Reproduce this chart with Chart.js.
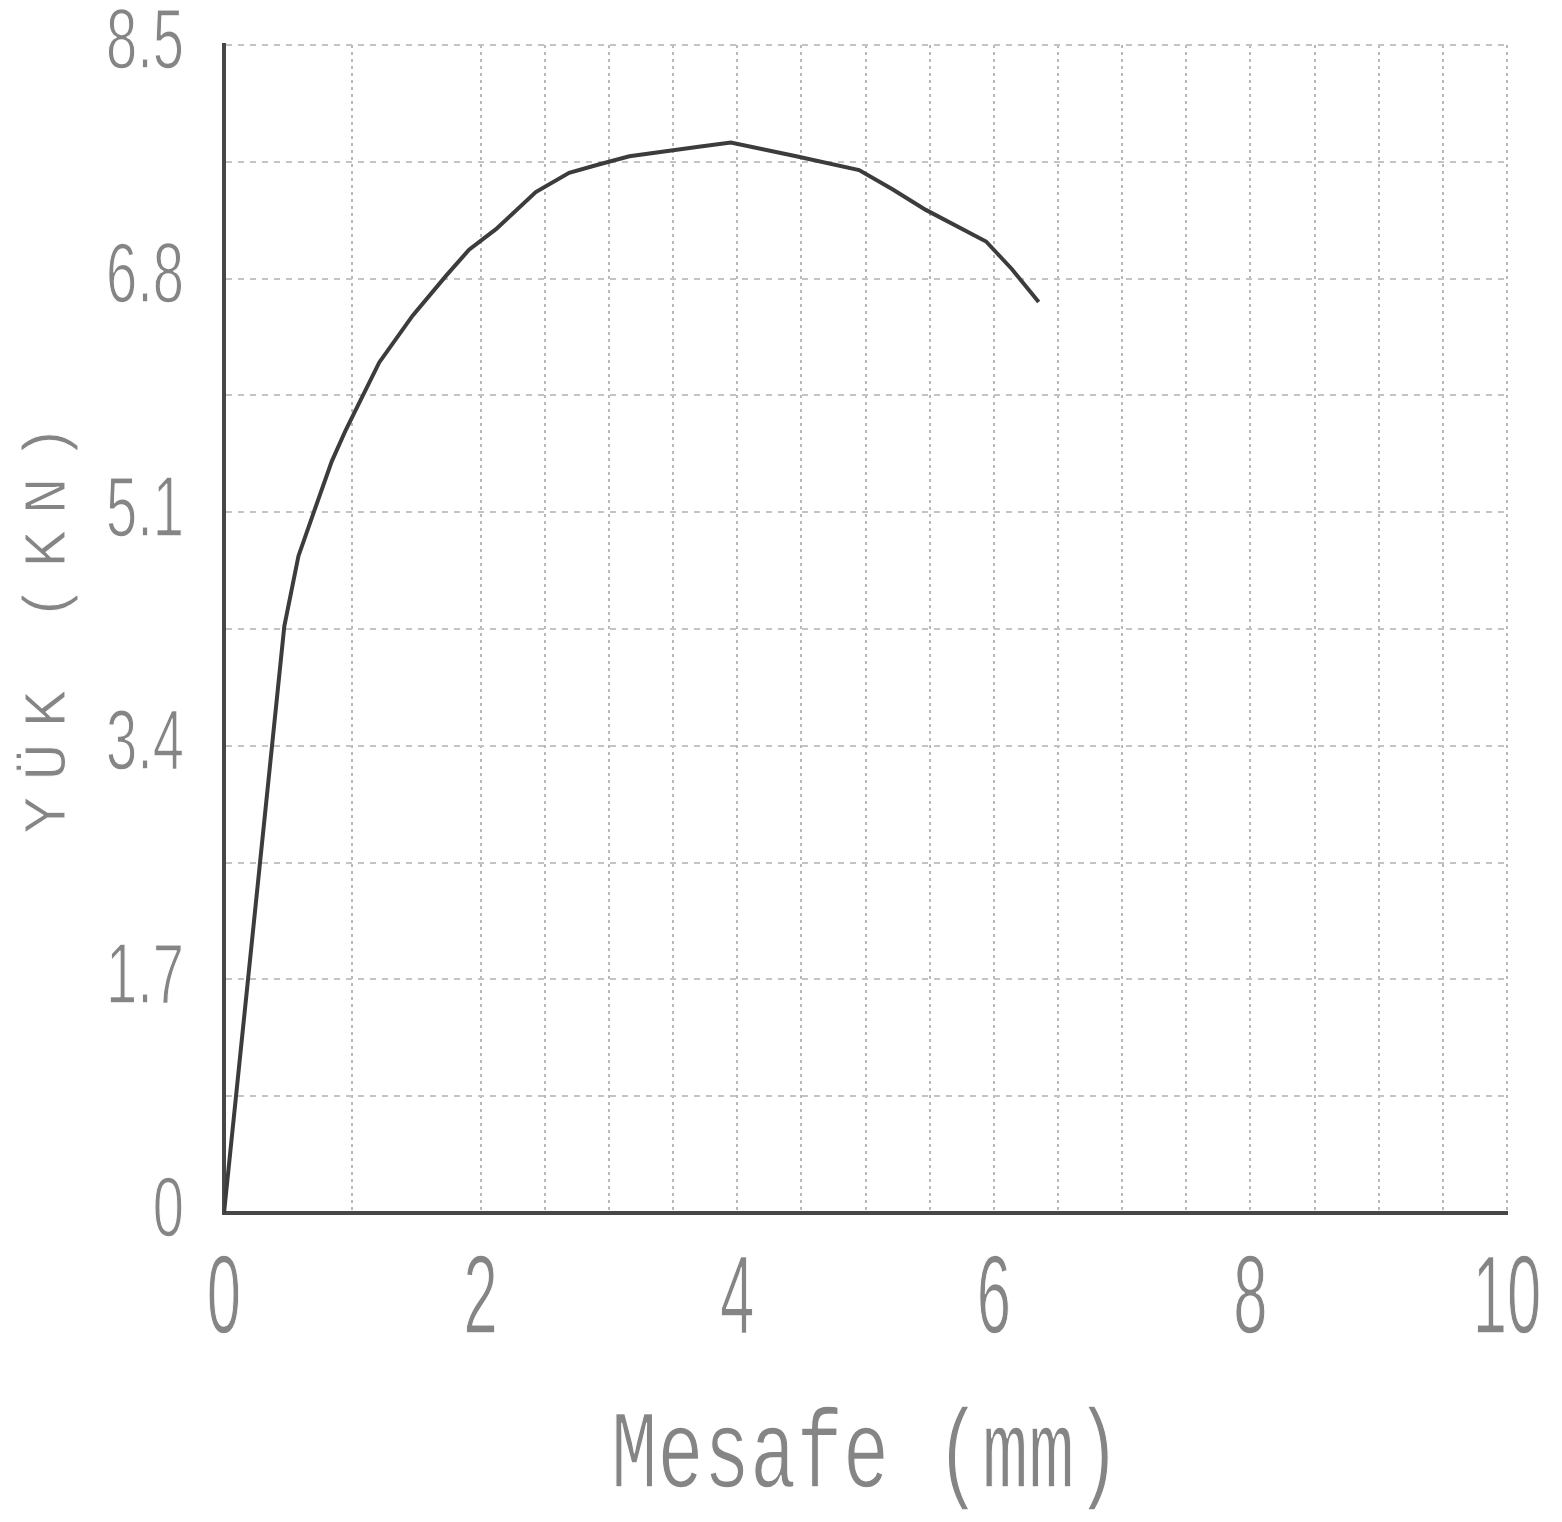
<!DOCTYPE html>
<html>
<head>
<meta charset="utf-8">
<title>Yük - Mesafe</title>
<script src="https://cdn.jsdelivr.net/npm/chart.js@4/dist/chart.umd.min.js"></script>
<style>
    html, body { margin: 0; padding: 0; background: #fff; }
    canvas { display: block; }
</style>
</head>
<body>
<canvas id="loadChart" width="1562" height="1522"></canvas>
<script>
// values
const distance = [0, 0.47, 0.58, 0.70, 0.84, 0.95, 1.21, 1.47, 1.73, 1.91, 2.12, 2.43, 2.69, 2.92, 3.16, 3.70, 3.95, 4.46, 4.95, 5.21, 5.47, 5.94, 6.14, 6.35];
const load = [0, 4.27, 4.78, 5.10, 5.47, 5.70, 6.19, 6.53, 6.82, 7.01, 7.16, 7.43, 7.57, 7.63, 7.69, 7.76, 7.79, 7.69, 7.59, 7.45, 7.30, 7.07, 6.87, 6.63];

const xTickLabels = ['0', '2', '4', '6', '8', '10'];
const yTickLabels = ['0', '1.7', '3.4', '5.1', '6.8', '8.5'];
const xTitle = 'Mesafe (mm)';
const yTitle = 'YÜK (KN)';

const textColor = '#858585';
const digitFont = '"Liberation Sans", Arimo, sans-serif';
const plotFont = '"Liberation Mono", "DejaVu Sans Mono", monospace';

// plotter style lettering: narrow glyphs, thinned with a white edge
function plotterLabel(ctx, txt, x, y, sx, rot, erode) {
    ctx.save();
    ctx.translate(x, y);
    if (rot) ctx.rotate(rot);
    ctx.scale(sx, 1);
    ctx.fillText(txt, 0, 0);
    if (erode) {
        ctx.lineWidth = erode;
        ctx.lineJoin = 'round';
        ctx.strokeStyle = '#fff';
        ctx.strokeText(txt, 0, 0);
    }
    ctx.restore();
}

const plotterText = {
    id: 'plotterText',
    afterDraw(chart) {
        const ctx = chart.ctx;
        const x = chart.scales.x;
        const y = chart.scales.y;
        ctx.save();
        ctx.fillStyle = textColor;
        ctx.textBaseline = 'middle';

        // x tick labels
        ctx.textAlign = 'center';
        ctx.font = '112px ' + digitFont;
        xTickLabels.forEach(lbl => {
            plotterLabel(ctx, lbl, x.getPixelForValue(parseFloat(lbl)), 1302, 0.55, 0, 1.5);
        });

        // y tick labels
        ctx.textAlign = 'right';
        ctx.font = '85px ' + digitFont;
        yTickLabels.forEach(lbl => {
            plotterLabel(ctx, lbl, 184, y.getPixelForValue(parseFloat(lbl)), 0.66, 0, 1.5);
        });

        // axis titles
        ctx.textAlign = 'center';
        ctx.font = '112px ' + plotFont;
        plotterLabel(ctx, xTitle, 866, 1457, 0.69, 0, 1.5);

        ctx.font = '62px ' + plotFont;
        ctx.letterSpacing = '16px';
        plotterLabel(ctx, yTitle, 49, 621, 1, -Math.PI / 2, 1);
        ctx.letterSpacing = '0px';

        ctx.restore();
    }
};

const ctxLoad = document.getElementById('loadChart').getContext('2d');

const loadChart = new Chart(ctxLoad, {
    type: 'scatter',
    data: {
        datasets: [{
            data: distance.map((d, i) => ({ x: d, y: load[i] })),
            showLine: true,
            borderColor: '#3c3c3c',
            borderWidth: 4,
            pointRadius: 0,
            tension: 0
        }]
    },
    options: {
        responsive: false,
        animation: false,
        layout: {
            padding: { left: 224, right: 55, top: 45, bottom: 309 }
        },
        plugins: {
            legend: { display: false },
            tooltip: { enabled: false }
        },
        scales: {
            x: {
                type: 'linear',
                min: 0,
                max: 10,
                ticks: { stepSize: 0.5, display: false },
                grid: {
                    drawTicks: false,
                    lineWidth: 2,
                    color: c => {
                        const v = c.tick ? c.tick.value : 0;
                        if (v === 0 || v === 0.5 || v === 1.5) return 'rgba(0,0,0,0)';
                        return '#b8b8b8';
                    }
                },
                border: { display: true, color: '#474747', width: 4, dash: [3, 4] }
            },
            y: {
                type: 'linear',
                min: 0,
                max: 8.5,
                ticks: { stepSize: 0.85, display: false },
                grid: {
                    drawTicks: false,
                    lineWidth: 2,
                    color: c => (c.tick && c.tick.value === 0) ? 'rgba(0,0,0,0)' : '#c4c4c4'
                },
                border: { display: true, color: '#474747', width: 4, dash: [6, 6] }
            }
        }
    },
    plugins: [plotterText]
});
</script>
</body>
</html>
